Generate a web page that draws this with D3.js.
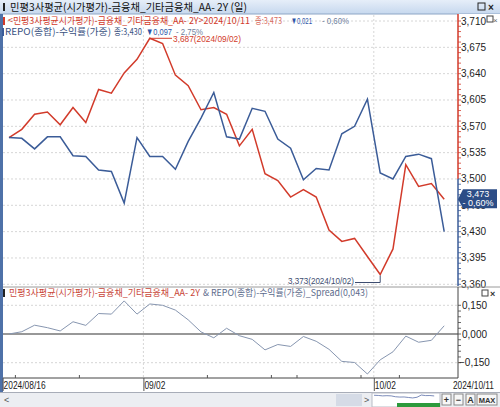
<!DOCTYPE html>
<html>
<head>
<meta charset="utf-8">
<script src="https://cdn.jsdelivr.net/npm/d3@7"></script>
<style>
  body { margin: 0; background: #fff; }
  svg { display: block; }
  text { font-family: "Liberation Sans", Arial, sans-serif; }
  .kr { font-family: "Noto Sans CJK KR", "Noto Sans", sans-serif; }
</style>
</head>
<body>
<svg id="chart" width="500" height="407"></svg>
<script>
// trading days shown (2024)
const dates = ["08/16","08/19","08/20","08/21","08/22","08/23","08/26","08/27","08/28","08/29","08/30",
  "09/02","09/03","09/04","09/05","09/06","09/09","09/10","09/11","09/12","09/13","09/19","09/20",
  "09/23","09/24","09/25","09/26","09/27","09/30","10/02","10/04","10/07","10/08","10/10","10/11"];

// 민평3사평균 AA- 2Y (red)
const minpyung = [3.555,3.566,3.586,3.589,3.572,3.595,3.575,3.619,3.614,3.641,3.659,
  3.687,3.680,3.638,3.624,3.592,3.595,3.586,3.544,3.566,3.507,3.498,3.476,
  3.486,3.476,3.432,3.417,3.421,3.397,3.373,3.407,3.519,3.490,3.494,3.473];

// REPO(종합) 수익률 (blue)
const repo = [3.555,3.554,3.540,3.556,3.556,3.531,3.530,3.512,3.510,3.468,3.555,
  3.530,3.530,3.513,3.550,3.581,3.615,3.556,3.553,3.594,3.590,3.553,3.541,
  3.499,3.514,3.512,3.560,3.570,3.606,3.508,3.500,3.530,3.533,3.527,3.430];

const mainTicks = [3.360,3.395,3.430,3.465,3.500,3.535,3.570,3.605,3.640,3.675,3.710];
const spreadTicks = [-0.150, 0.000, 0.150];
const majorDates = ["08/16","09/02","10/02"];
const majorLabels = ["2024/08/16","09/02","10/02"];
const weekDates = ["08/19","08/26","09/09","09/19","09/23","09/30","10/07"];

const svg = d3.select("#chart");
const fmt = v => d3.format(".3f")(v).replace(".", ",");
const RED = "#d23b2b", BLUE = "#3b5c98", SPREAD = "#8796b0";

let x = d3.scaleBand().domain(dates).range([2.6, 450.6]);
let cx = d => x(d) + x.bandwidth() / 2;
let y = d3.scaleLinear().domain([3.360, 3.710]).range([284.3, 21]);
let ys = d3.scaleLinear().domain([-0.150, 0.150]).range([362.7, 305.3]);

// title bar
let grad = svg.append("defs").append("linearGradient").attr("id", "tb").attr("x1", 0).attr("x2", 0).attr("y1", 0).attr("y2", 1);
grad.append("stop").attr("offset", "0%").attr("stop-color", "#e6eef9");
grad.append("stop").attr("offset", "100%").attr("stop-color", "#c6d8ee");
svg.append("rect").attr("x", 0).attr("y", 0).attr("width", 500).attr("height", 14).attr("fill", "url(#tb)");
svg.append("line").attr("x1", 0).attr("x2", 500).attr("y1", 14).attr("y2", 14).attr("stroke", "#8ea6c6");
svg.append("rect").attr("x", 3).attr("y", 3).attr("width", 2).attr("height", 8).attr("fill", "#222");
svg.append("text").attr("class", "kr").attr("x", 10).attr("y", 11).attr("font-size", 10.5)
  .attr("textLength", 237).attr("lengthAdjust", "spacingAndGlyphs").attr("fill", "#111")
  .text("민평3사평균(시가평가)-금융채_기타금융채_AA- 2Y (일)");
svg.append("rect").attr("x", 478).attr("y", 3).attr("width", 7).attr("height", 7).attr("fill", "none").attr("stroke", "#222");
svg.append("text").attr("x", 488).attr("y", 11).attr("font-size", 10).attr("font-weight", "bold").attr("fill", "#222").text("×");

// left frame
svg.append("rect").attr("x", 0).attr("y", 14).attr("width", 3).attr("height", 378).attr("fill", "#4e71a8");

// main horizontal grid
svg.append("g").selectAll("line").data(mainTicks).enter().append("line")
  .attr("x1", 3).attr("x2", 457).attr("y1", d => y(d)).attr("y2", d => y(d))
  .attr("stroke", "#d6d6d6").attr("stroke-dasharray", "2,2");

// vertical grid at month marks (both panels)
svg.append("g").selectAll("line").data(majorDates.slice(1)).enter().append("line")
  .attr("x1", d => x(d)).attr("x2", d => x(d)).attr("y1", 15).attr("y2", 378)
  .attr("stroke", "#d6d6d6").attr("stroke-dasharray", "2,2");

// lines
let line = d3.line().x((d, i) => cx(dates[i])).y(d => y(d));
svg.append("path").datum(minpyung).attr("d", line).attr("fill", "none").attr("stroke", RED).attr("stroke-width", 1.5);
svg.append("path").datum(repo).attr("d", line).attr("fill", "none").attr("stroke", BLUE).attr("stroke-width", 1.5);

// legends
svg.append("rect").attr("x", 3).attr("y", 17).attr("width", 2).attr("height", 8).attr("fill", RED);
svg.append("text").attr("class", "kr").attr("x", 8).attr("y", 24).attr("font-size", 9.5)
  .attr("textLength", 242).attr("lengthAdjust", "spacingAndGlyphs").attr("fill", RED)
  .text("<민평3사평균시가평가)-금융채_기타금융채_AA- 2Y>2024/10/11");
svg.append("text").attr("class", "kr").attr("x", 255).attr("y", 24).attr("font-size", 9.5)
  .attr("textLength", 27).attr("lengthAdjust", "spacingAndGlyphs").attr("fill", "#d86a5c")
  .text("종:" + fmt(minpyung[34]));
svg.append("text").attr("x", 291).attr("y", 24).attr("font-size", 9.5)
  .attr("textLength", 21).attr("lengthAdjust", "spacingAndGlyphs").attr("fill", "#2d55a8")
  .text("▼" + fmt(minpyung[33] - minpyung[34]));
svg.append("text").attr("x", 322).attr("y", 24).attr("font-size", 9.5)
  .attr("textLength", 27).attr("lengthAdjust", "spacingAndGlyphs").attr("fill", "#6f7f9c")
  .text("- 0,60%");

svg.append("rect").attr("x", 2).attr("y", 28).attr("width", 2).attr("height", 8).attr("fill", BLUE);
svg.append("text").attr("class", "kr").attr("x", 5).attr("y", 35).attr("font-size", 9.5)
  .attr("textLength", 106).attr("lengthAdjust", "spacingAndGlyphs").attr("fill", "#3a5282")
  .text("REPO(종합)-수익률(가중)");
svg.append("text").attr("class", "kr").attr("x", 114).attr("y", 35).attr("font-size", 9.5)
  .attr("textLength", 28).attr("lengthAdjust", "spacingAndGlyphs").attr("fill", "#3a5282")
  .text("종:" + fmt(repo[34]));
svg.append("text").attr("x", 146).attr("y", 35).attr("font-size", 9.5)
  .attr("textLength", 26).attr("lengthAdjust", "spacingAndGlyphs").attr("fill", "#2d55a8")
  .text("▼" + fmt(repo[33] - repo[34]));
svg.append("text").attr("x", 176).attr("y", 35).attr("font-size", 9.5)
  .attr("textLength", 27).attr("lengthAdjust", "spacingAndGlyphs").attr("fill", "#6f7f9c")
  .text("- 2,75%");

// high / low annotations
let hi = d3.maxIndex(minpyung), lo = d3.minIndex(minpyung);
svg.append("line").attr("x1", cx(dates[hi])).attr("x2", 172).attr("y1", y(minpyung[hi])).attr("y2", y(minpyung[hi]))
  .attr("stroke", RED).attr("stroke-width", 1);
svg.append("text").attr("x", 173).attr("y", 42).attr("font-size", 9.5)
  .attr("textLength", 68).attr("lengthAdjust", "spacingAndGlyphs").attr("fill", RED)
  .text(fmt(minpyung[hi]) + "(2024/" + dates[hi] + ")");
svg.append("path")
  .attr("d", "M355," + 282.5 + "H" + cx(dates[lo]) + "V" + (y(minpyung[lo]) + 1))
  .attr("fill", "none").attr("stroke", "#3d4d70").attr("stroke-width", 1);
svg.append("text").attr("x", 288).attr("y", 283.5).attr("font-size", 9.5)
  .attr("textLength", 66).attr("lengthAdjust", "spacingAndGlyphs").attr("fill", "#3d4d70")
  .text(fmt(minpyung[lo]) + "(2024/" + dates[lo] + ")");

// right axis main
svg.append("rect").attr("x", 458).attr("y", 14).attr("width", 42).attr("height", 272).attr("fill", "#fff");
svg.append("line").attr("x1", 458).attr("x2", 458).attr("y1", 14).attr("y2", y(3.500)).attr("stroke", RED).attr("stroke-width", 1.5);
svg.append("line").attr("x1", 458).attr("x2", 458).attr("y1", y(3.500)).attr("y2", 286).attr("stroke", BLUE).attr("stroke-width", 1.5);
let minorMain = d3.range(3.360, 3.7101, 0.007);
svg.append("g").selectAll("line").data(minorMain).enter().append("line")
  .attr("x1", 458).attr("x2", 461).attr("y1", d => y(d)).attr("y2", d => y(d))
  .attr("stroke", d => d > 3.5 ? RED : BLUE).attr("stroke-width", 0.8);
svg.append("g").selectAll("text").data(mainTicks).enter().append("text")
  .attr("x", 461).attr("y", d => y(d) + 3.5).attr("font-size", 10).attr("fill", "#222")
  .text(d => fmt(d));
svg.append("rect").attr("x", 487).attr("y", 16).attr("width", 6).attr("height", 6).attr("fill", "none").attr("stroke", "#444");
svg.append("text").attr("x", 493).attr("y", 23).attr("font-size", 8).attr("fill", "#666").text("×");

// last value badge
let by = y(minpyung[34]);
svg.append("path").attr("d", "M458," + by + "L463," + (by - 10) + "H497V" + (by + 9) + "H463Z").attr("fill", "#2c4d86");
svg.append("text").attr("x", 478).attr("y", by - 2).attr("text-anchor", "middle").attr("font-size", 9).attr("fill", "#fff").text(fmt(minpyung[34]));
svg.append("text").attr("x", 478).attr("y", by + 7).attr("text-anchor", "middle").attr("font-size", 9).attr("fill", "#fff").text("- 0,60%");

// panel separator
svg.append("line").attr("x1", 3).attr("x2", 500).attr("y1", 287).attr("y2", 287).attr("stroke", "#9a9a9a");

// spread panel
let spread = minpyung.map((d, i) => +(d - repo[i]).toFixed(3));
svg.append("g").selectAll("line").data([-0.150, 0.150]).enter().append("line")
  .attr("x1", 3).attr("x2", 457).attr("y1", d => ys(d)).attr("y2", d => ys(d))
  .attr("stroke", "#d6d6d6").attr("stroke-dasharray", "2,2");
svg.append("line").attr("x1", 3).attr("x2", 458).attr("y1", ys(0)).attr("y2", ys(0)).attr("stroke", "#333").attr("stroke-width", 1.2);
svg.append("path").datum(spread)
  .attr("d", d3.line().x((d, i) => cx(dates[i])).y(d => ys(d)))
  .attr("fill", "none").attr("stroke", SPREAD).attr("stroke-width", 1);

svg.append("rect").attr("x", 3).attr("y", 289).attr("width", 2).attr("height", 8).attr("fill", "#222");
svg.append("text").attr("class", "kr").attr("x", 9).attr("y", 296).attr("font-size", 9.5)
  .attr("textLength", 191).attr("lengthAdjust", "spacingAndGlyphs").attr("fill", "#c9473a")
  .text("민평3사평균(시가평가)-금융채_기타금융채_AA- 2Y");
svg.append("text").attr("class", "kr").attr("x", 203).attr("y", 296).attr("font-size", 9.5)
  .attr("textLength", 165).attr("lengthAdjust", "spacingAndGlyphs").attr("fill", "#5d6c8c")
  .text("& REPO(종합)-수익률(가중)_Spread(" + fmt(spread[34]) + ")");

svg.append("line").attr("x1", 458).attr("x2", 458).attr("y1", 287).attr("y2", 378).attr("stroke", "#444");
svg.append("g").selectAll("line").data(d3.range(-0.15, 0.1501, 0.03)).enter().append("line")
  .attr("x1", 458).attr("x2", 461).attr("y1", d => ys(d)).attr("y2", d => ys(d)).attr("stroke", "#444").attr("stroke-width", 0.8);
svg.append("g").selectAll("text").data(spreadTicks).enter().append("text")
  .attr("x", d => d < 0 ? 459 : 462).attr("y", d => ys(d) + 3.5).attr("font-size", 10).attr("fill", "#222")
  .text(d => fmt(d));
svg.append("rect").attr("x", 482).attr("y", 290).attr("width", 6).attr("height", 6).attr("fill", "none").attr("stroke", "#444");
svg.append("text").attr("x", 490).attr("y", 297).attr("font-size", 9).attr("font-weight", "bold").attr("fill", "#333").text("×");

// x axis
svg.append("line").attr("x1", 3).attr("x2", 458).attr("y1", 378).attr("y2", 378).attr("stroke", "#444");
svg.append("g").selectAll("line").data(weekDates).enter().append("line")
  .attr("x1", d => x(d)).attr("x2", d => x(d)).attr("y1", 375).attr("y2", 378).attr("stroke", "#555");
svg.append("g").selectAll("line").data(majorDates).enter().append("line")
  .attr("x1", d => x(d) + 0.5).attr("x2", d => x(d) + 0.5).attr("y1", 378).attr("y2", 391).attr("stroke", "#555");
svg.append("g").selectAll("text").data(majorDates).enter().append("text")
  .attr("x", d => x(d) + 1).attr("y", 389).attr("font-size", 10).attr("fill", "#222")
  .attr("textLength", (d, i) => i === 0 ? 42 : 21).attr("lengthAdjust", "spacingAndGlyphs")
  .text((d, i) => majorLabels[i]);
svg.append("text").attr("x", 453).attr("y", 389).attr("font-size", 10).attr("fill", "#222")
  .attr("textLength", 41).attr("lengthAdjust", "spacingAndGlyphs").text("2024/" + dates[dates.length - 1]);

// scroll bar
svg.append("rect").attr("x", 0).attr("y", 392).attr("width", 500).attr("height", 15).attr("fill", "#eceef2");
svg.append("line").attr("x1", 0).attr("x2", 500).attr("y1", 392.5).attr("y2", 392.5).attr("stroke", "#a8adb8");
svg.append("text").attr("x", 4).attr("y", 403).attr("font-size", 9).attr("fill", "#555").text("<");
svg.append("rect").attr("x", 336).attr("y", 394).attr("width", 26).attr("height", 12).attr("fill", "#d5dbe6");
svg.append("text").attr("x", 364).attr("y", 403).attr("font-size", 9).attr("fill", "#555").text(">");
svg.append("rect").attr("x", 372).attr("y", 393).attr("width", 68).attr("height", 14).attr("fill", "#fff").attr("stroke", "#b8bcc6");
svg.append("path").datum(minpyung.slice(20))
  .attr("d", d3.line().x((d, i) => 374 + i * 4.3).y(d => 398 - (d - 3.37) * 20))
  .attr("fill", "none").attr("stroke", "#5a6fa8").attr("stroke-width", 0.8);
svg.append("rect").attr("x", 397).attr("y", 403).attr("width", 43).attr("height", 4).attr("fill", "#2c9a3c");
const btns = [["+", 442, 9], ["−", 454, 9], ["A", 466, 9], ["MAX", 477, 20]];
btns.forEach(b => {
  svg.append("rect").attr("x", b[1]).attr("y", 394).attr("width", b[2]).attr("height", 11).attr("fill", "#f7f7f7").attr("stroke", "#888");
  svg.append("text").attr("x", b[1] + b[2] / 2).attr("y", 403).attr("text-anchor", "middle")
    .attr("font-size", b[0] === "MAX" ? 7.5 : 9).attr("font-weight", "bold").attr("fill", "#333").text(b[0]);
});
</script>
</body>
</html>
